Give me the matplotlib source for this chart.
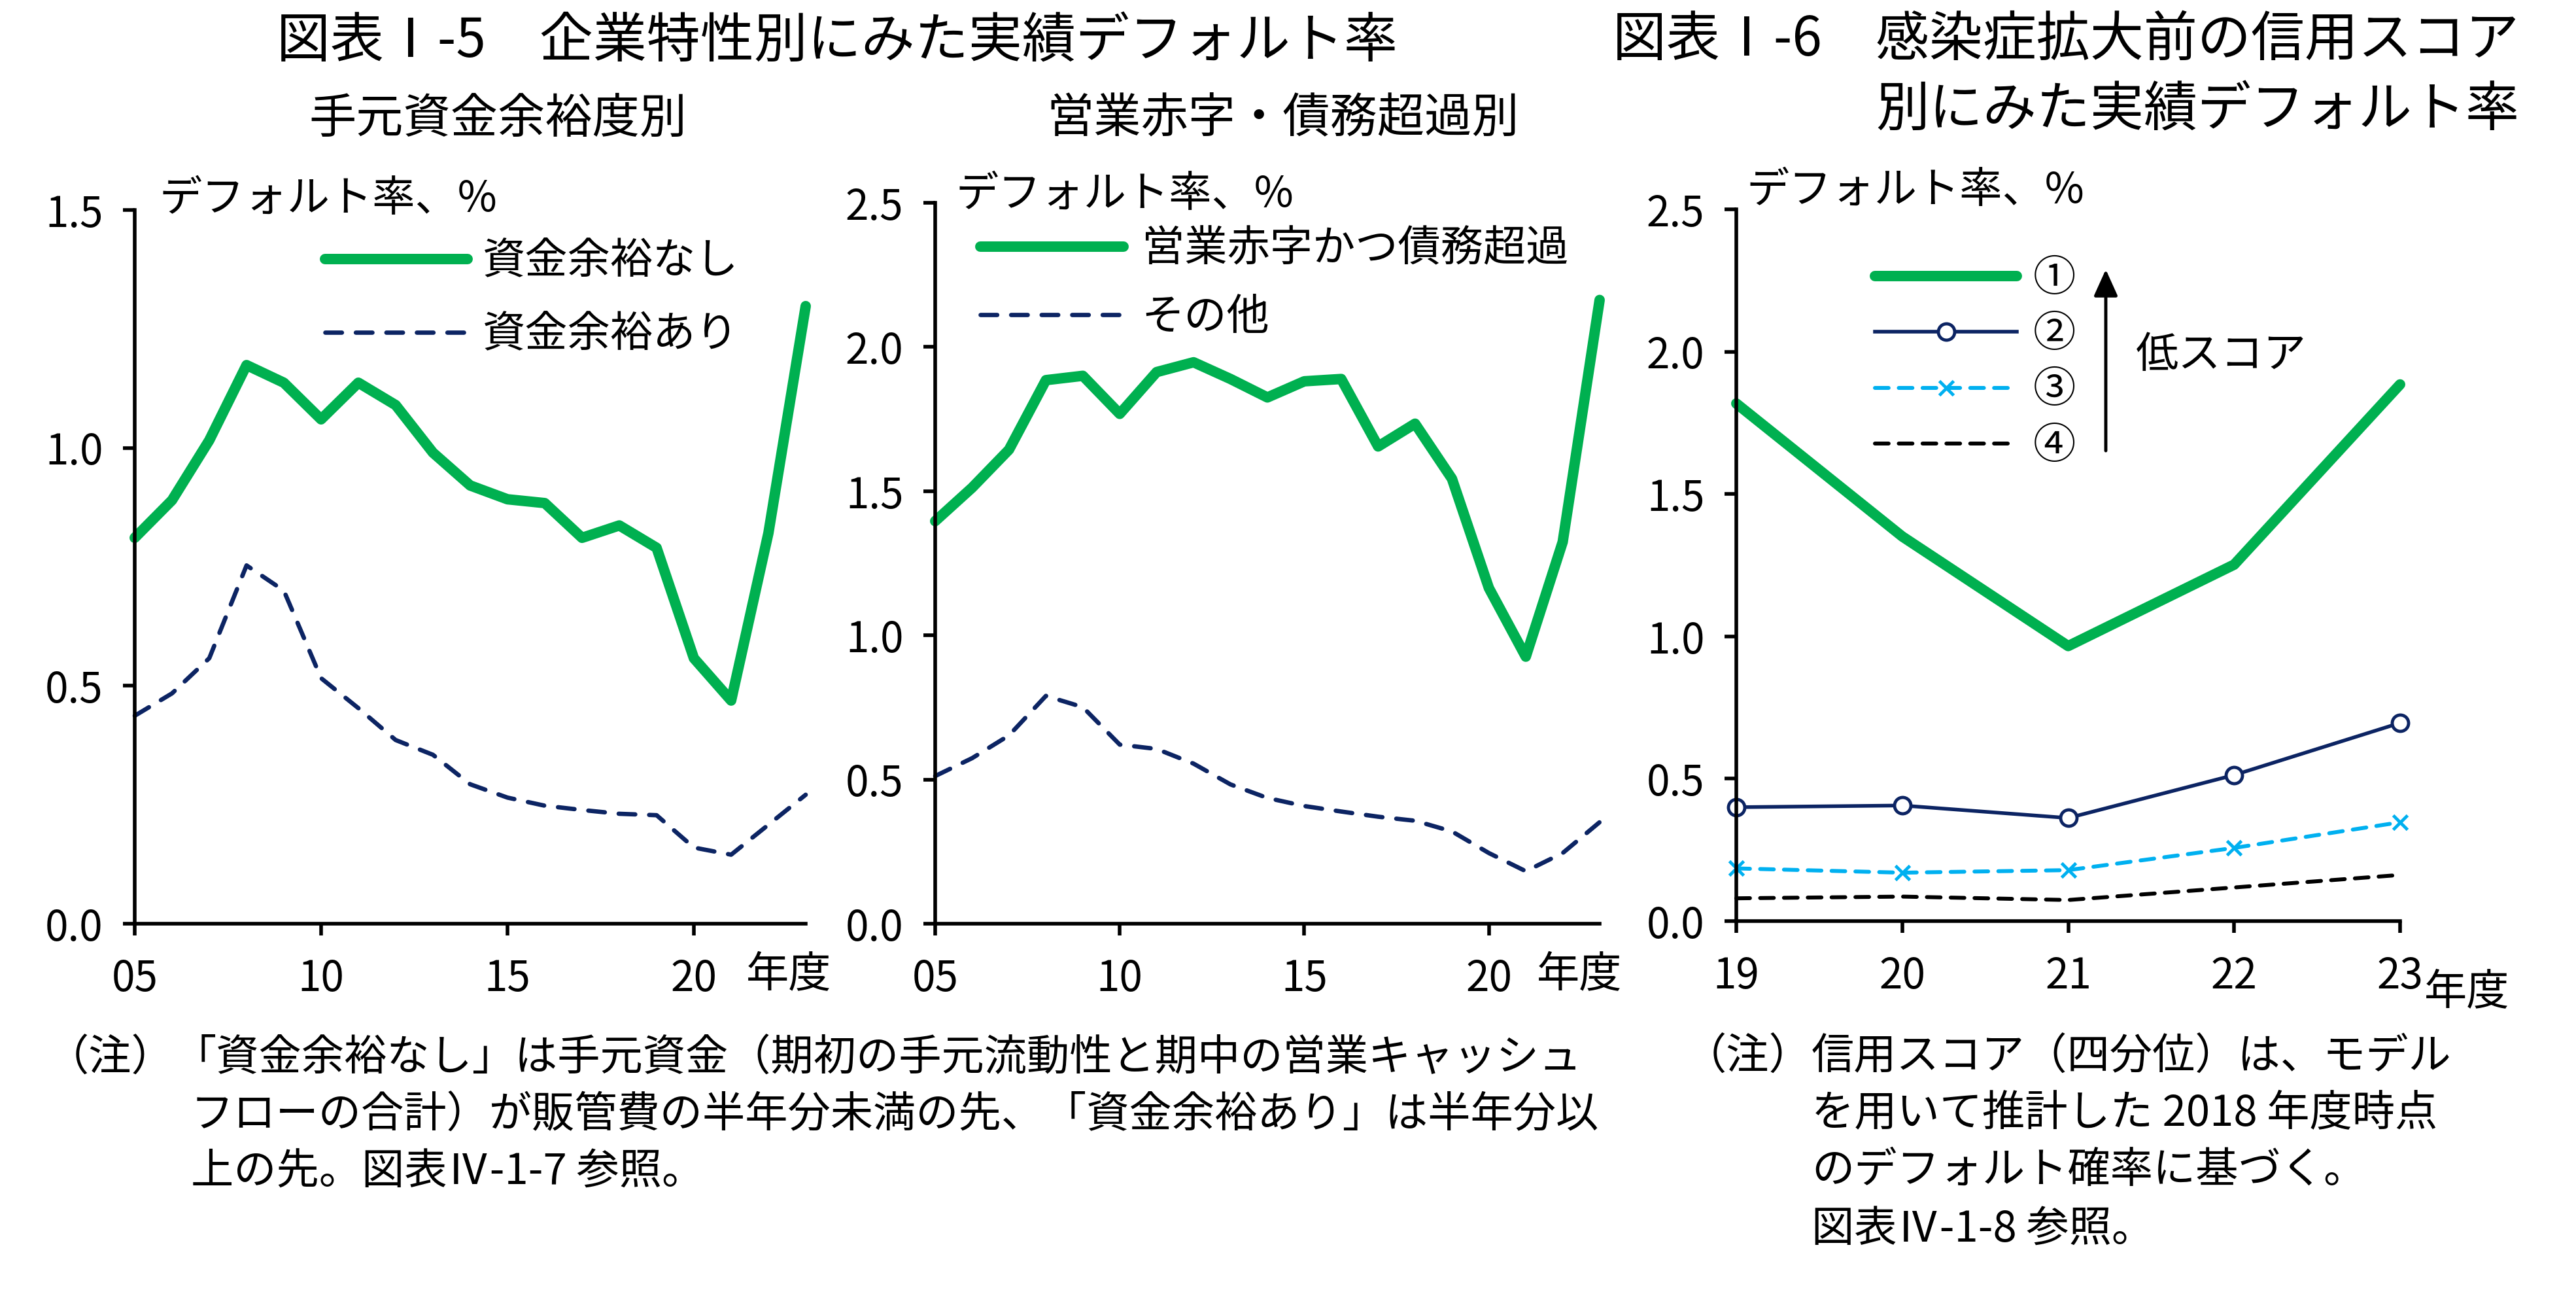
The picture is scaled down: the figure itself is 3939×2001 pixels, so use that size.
import matplotlib
matplotlib.use('Agg')
import matplotlib.pyplot as plt

plt.rcParams['font.family'] = ['Noto Sans CJK JP', 'DejaVu Sans']

W, H = 3939, 2001

# 図表I-5 (05-23年度)
years_a = list(range(2005, 2024))
no_cash = [0.811, 0.890, 1.016, 1.174, 1.137, 1.060, 1.137, 1.090, 0.990, 0.921,
           0.892, 0.884, 0.811, 0.837, 0.790, 0.558, 0.469, 0.821, 1.298]
has_cash = [0.437, 0.484, 0.558, 0.753, 0.700, 0.516, 0.453, 0.386, 0.355, 0.293,
            0.265, 0.248, 0.239, 0.231, 0.228, 0.160, 0.145, 0.208, 0.271]
deficit = [1.396, 1.512, 1.644, 1.885, 1.900, 1.768, 1.913, 1.947, 1.889, 1.825,
           1.881, 1.889, 1.655, 1.734, 1.543, 1.164, 0.926, 1.324, 2.163]
others = [0.512, 0.574, 0.653, 0.790, 0.751, 0.621, 0.606, 0.555, 0.483, 0.436,
          0.408, 0.389, 0.371, 0.357, 0.320, 0.245, 0.182, 0.245, 0.352]

# 図表I-6 (19-23年度)
years_b = [2019, 2020, 2021, 2022, 2023]
score1 = [1.818, 1.351, 0.966, 1.252, 1.885]
score2 = [0.400, 0.406, 0.362, 0.513, 0.696]
score3 = [0.185, 0.170, 0.179, 0.257, 0.347]
score4 = [0.080, 0.086, 0.074, 0.118, 0.162]

GREEN = '#00B050'
NAVY = '#0C2463'
CYAN = '#00B0F0'
FS = 47

fig = plt.figure(figsize=(W / 100, H / 100), dpi=100)


def rect(l, t, r, b):
    return [l / W, 1 - b / H, (r - l) / W, (b - t) / H]


def ftext(x, y, s, size=FS, ha='left', va='center'):
    fig.text(x / W, 1 - y / H, s, fontsize=size, ha=ha, va=va)


def style(ax, xlim, xticks, xlabels, ylim, yticks):
    for s in ['top', 'right']:
        ax.spines[s].set_visible(False)
    for s in ['left', 'bottom']:
        ax.spines[s].set_linewidth(4)
    ax.set_xlim(xlim)
    ax.set_ylim(ylim)
    ax.set_xticks(xticks)
    ax.set_xticklabels(xlabels)
    ax.set_yticks(yticks)
    ax.set_yticklabels(['%.1f' % v for v in yticks])
    ax.tick_params(direction='out', length=13, width=4, labelsize=46)
    ax.tick_params(axis='x', pad=24)
    ax.tick_params(axis='y', pad=22)
    ax.set_facecolor('none')


def leg(ax, x, y, hl, tp, ls):
    ax.legend(loc='upper left', bbox_to_anchor=(x / W, 1 - y / H),
              bbox_transform=fig.transFigure, frameon=False, fontsize=FS,
              borderpad=0, borderaxespad=0, handlelength=hl,
              handletextpad=tp, labelspacing=ls)


dash_a = (3.8, 3.2)
dash_b = (3.5, 2.6)

# panel 1
ax1 = fig.add_axes(rect(206, 321, 1232, 1412))
ax1.plot(years_a, no_cash, color=GREEN, lw=11.5, solid_capstyle='round',
         solid_joinstyle='round', clip_on=False, label='資金余裕なし')
ax1.plot(years_a, has_cash, color=NAVY, lw=4.8, dashes=dash_a,
         dash_capstyle='round', clip_on=False, label='資金余裕あり')
style(ax1, (2005, 2023), [2005, 2010, 2015, 2020], ['05', '10', '15', '20'],
      (0, 1.5), [0, 0.5, 1.0, 1.5])
leg(ax1, 497, 367, 3.34, 0.35, 0.7)

# panel 2
ax2 = fig.add_axes(rect(1430, 310, 2446, 1412))
ax2.plot(years_a, deficit, color=GREEN, lw=11.5, solid_capstyle='round',
         solid_joinstyle='round', clip_on=False, label='営業赤字かつ債務超過')
ax2.plot(years_a, others, color=NAVY, lw=4.8, dashes=dash_a,
         dash_capstyle='round', clip_on=False, label='その他')
style(ax2, (2005, 2023), [2005, 2010, 2015, 2020], ['05', '10', '15', '20'],
      (0, 2.5), [0, 0.5, 1.0, 1.5, 2.0, 2.5])
leg(ax2, 1499, 348, 3.35, 0.43, 0.58)

# panel 3
ax3 = fig.add_axes(rect(2655, 320, 3670, 1408))
ax3.plot(years_b, score1, color=GREEN, lw=11.5, solid_capstyle='round',
         solid_joinstyle='round', clip_on=False, label='①')
ax3.plot(years_b, score2, color=NAVY, lw=4, marker='o', ms=18, mfc='white',
         mec=NAVY, mew=3.5, clip_on=False, label='②')
ax3.plot(years_b, score3, color=CYAN, lw=4.3, dashes=dash_b,
         dash_capstyle='round', marker='x', ms=16, mec=CYAN, mew=3.5,
         clip_on=False, label='③')
ax3.plot(years_b, score4, color='black', lw=4.3, dashes=dash_b,
         dash_capstyle='round', clip_on=False, label='④')
style(ax3, (2019, 2023), years_b, ['19', '20', '21', '22', '23'],
      (0, 2.5), [0, 0.5, 1.0, 1.5, 2.0, 2.5])
leg(ax3, 2867, 393, 3.33, 0.37, 0.29)

ax3.annotate('', xy=(3220 / W, 1 - 412 / H), xytext=(3220 / W, 1 - 689 / H),
             xycoords='figure fraction', textcoords='figure fraction',
             arrowprops=dict(arrowstyle='-|>,head_length=0.62,head_width=0.28',
                             lw=3.5, color='black', mutation_scale=40,
                             shrinkA=0, shrinkB=0))
ftext(3266, 544, '低スコア')

# titles
ftext(423, 63, '図表Ⅰ-5　企業特性別にみた実績デフォルト率', size=59)
ftext(3852, 61, '図表Ⅰ-6　感染症拡大前の信用スコア', size=59, ha='right')
ftext(3852, 168, '別にみた実績デフォルト率', size=59, ha='right')
ftext(761, 182, '手元資金余裕度別', size=52, ha='center')
ftext(1962, 182, '営業赤字・債務超過別', size=52, ha='center')

# y labels
ftext(243, 305, 'デフォルト率、%')
ftext(1461, 298, 'デフォルト率、%')
ftext(2670, 292, 'デフォルト率、%')

# x labels
ftext(1206, 1490, '年度', ha='center')
ftext(2415, 1490, '年度', ha='center')
ftext(3772, 1517, '年度', ha='center')

# notes
ftext(266, 1618, '（注）', ha='right')
ftext(266, 1618, '「資金余裕なし」は手元資金（期初の手元流動性と期中の営業キャッシュ')
ftext(292, 1705, 'フローの合計）が販管費の半年分未満の先、「資金余裕あり」は半年分以')
ftext(292, 1792, '上の先。図表Ⅳ-1-7 参照。')

ftext(2770, 1616, '（注）', ha='right')
ftext(2770, 1616, '信用スコア（四分位）は、モデル')
ftext(2770, 1702, 'を用いて推計した 2018 年度時点')
ftext(2770, 1790, 'のデフォルト確率に基づく。')
ftext(2770, 1880, '図表Ⅳ-1-8 参照。')

fig.savefig('out.png', dpi=100)
